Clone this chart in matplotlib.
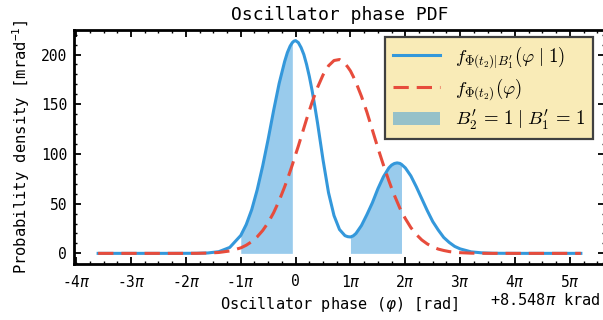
import numpy as np
import matplotlib
matplotlib.use('Agg')
import matplotlib.pyplot as plt
from matplotlib.ticker import MultipleLocator, FuncFormatter
from matplotlib.font_manager import FontProperties

plt.rcParams['font.family'] = 'DejaVu Sans Mono'

# phase in units of pi (relative to +8.548pi krad)
phase = [-3.6, -3.2, -2.8, -2.4, -2.0, -1.8, -1.6, -1.4, -1.2,
         -1.0, -0.9, -0.8, -0.7, -0.6, -0.5, -0.4, -0.3, -0.2, -0.15, -0.1, -0.06, -0.03,
         0.0, 0.05, 0.1, 0.15, 0.2, 0.25, 0.3, 0.35, 0.4, 0.5, 0.6, 0.7, 0.8, 0.9, 0.95,
         1.0, 1.05, 1.1, 1.2, 1.3, 1.4, 1.5, 1.6, 1.7, 1.75, 1.8, 1.85, 1.9, 1.93,
         2.0, 2.1, 2.2, 2.3, 2.4, 2.5, 2.6, 2.7, 2.8, 2.9,
         3.0, 3.2, 3.4, 3.6, 4.0, 4.4, 4.8, 5.2]

# conditional pdf f(phi | 1)
pdf_cond = [0, 0, 0, 0, 0.05, 0.1, 0.4, 1.7, 6,
            18, 29, 44, 64, 88, 115, 144, 171, 193, 202, 208.5, 212, 213.5,
            214, 212, 207, 200, 190, 178, 164, 148, 131, 94, 61, 38, 24, 17.8, 16.8,
            16.5, 17.6, 20, 28, 39, 51, 65, 77, 86, 88.8, 90.4, 91, 90.5, 89.5,
            86, 78, 67, 55, 43, 32, 23.5, 16, 11, 7,
            4.5, 1.5, 0.5, 0.1, 0, 0, 0, 0]

# marginal pdf f(phi)
pdf_marg = [0, 0, 0, 0, 0, 0.05, 0.3, 0.9, 2.4,
            5.5, 8.2, 11.8, 16.7, 23, 31, 41, 53, 67, 74.5, 82.5, 89, 94.3,
            99.5, 108, 117, 126, 135, 143.5, 152, 159.5, 167, 179.5, 188.7, 194, 195, 191, 187.5,
            183.5, 178, 172, 158, 142, 124, 106, 89, 73, 65.5, 58.5, 52, 45.5, 42,
            35, 26, 19, 13.5, 9.5, 6.5, 4.3, 2.9, 1.8, 1.1,
            0.7, 0.2, 0.05, 0, 0, 0, 0, 0]

# shaded intervals (units of pi)
shade = [(-1.0, -0.06), (1.0, 1.93)]

blue = '#3498db'
red = '#e74c3c'

x = np.array(phase)
yc = np.array(pdf_cond)
ym = np.array(pdf_marg)

fig = plt.figure(figsize=(6.03, 3.2), dpi=100)
ax = fig.add_axes([74 / 603, 1 - 264 / 320, 531 / 603, 234 / 320])

ax.plot(x, yc, color=blue, lw=2.2, label=r'$f_{\Phi(t_2)|B_1^\prime}(\varphi\;|\;1)$', zorder=3)
line, = ax.plot(x, ym, color=red, lw=2.2, ls='--', label=r'$f_{\Phi(t_2)}(\varphi)$', zorder=4)
line.set_dashes((5, 2.6))
for i, (a, b) in enumerate(shade):
    m = (x >= a) & (x <= b)
    ax.fill_between(x, 0, yc, where=m, color=blue, alpha=0.5, lw=0,
                    label=r'$B_2^\prime\,=\,1\;|\;B_1^\prime\,=\,1$' if i == 0 else None, zorder=2)

ax.xaxis.set_major_locator(MultipleLocator(1))
ax.xaxis.set_minor_locator(MultipleLocator(0.25))
ax.xaxis.set_major_formatter(FuncFormatter(lambda v, p: '0' if abs(v) < 1e-9 else '%d$\\pi$' % round(v)))
ax.yaxis.set_major_locator(MultipleLocator(50))
ax.yaxis.set_minor_locator(MultipleLocator(10))

ax.tick_params(which='both', direction='in', top=True, right=True, labelsize=10.5)
ax.tick_params(which='major', length=5, width=1.3)
ax.tick_params(which='minor', length=2.5, width=1)
ax.tick_params(axis='x', pad=7)
ax.tick_params(axis='y', pad=5)
for s in ax.spines.values():
    s.set_linewidth(2)

ax.set_title('Oscillator phase PDF', fontsize=13, pad=7)
ax.set_xlabel(r'Oscillator phase ($\varphi$) [rad]', fontsize=11, labelpad=4)
ax.set_ylabel(r'Probability density [mrad$^{\mathtt{-1}}$]', fontsize=11.2, labelpad=6)
fig.text(601 / 603, 1 - 300 / 320, r'+8.548$\pi$ krad', fontsize=11, ha='right', va='center')

leg = ax.legend(loc='upper right', bbox_to_anchor=(593 / 603, 1 - 37 / 320),
                bbox_transform=fig.transFigure, borderaxespad=0, fancybox=False,
                framealpha=1, facecolor='#f9ebb7', edgecolor='#404040',
                prop=FontProperties(size=13.5, math_fontfamily='cm'),
                handlelength=2.5, handletextpad=0.8, labelspacing=0.3, borderpad=0.4)
leg.get_frame().set_linewidth(1.6)

fig.savefig('out.png', dpi=100)
